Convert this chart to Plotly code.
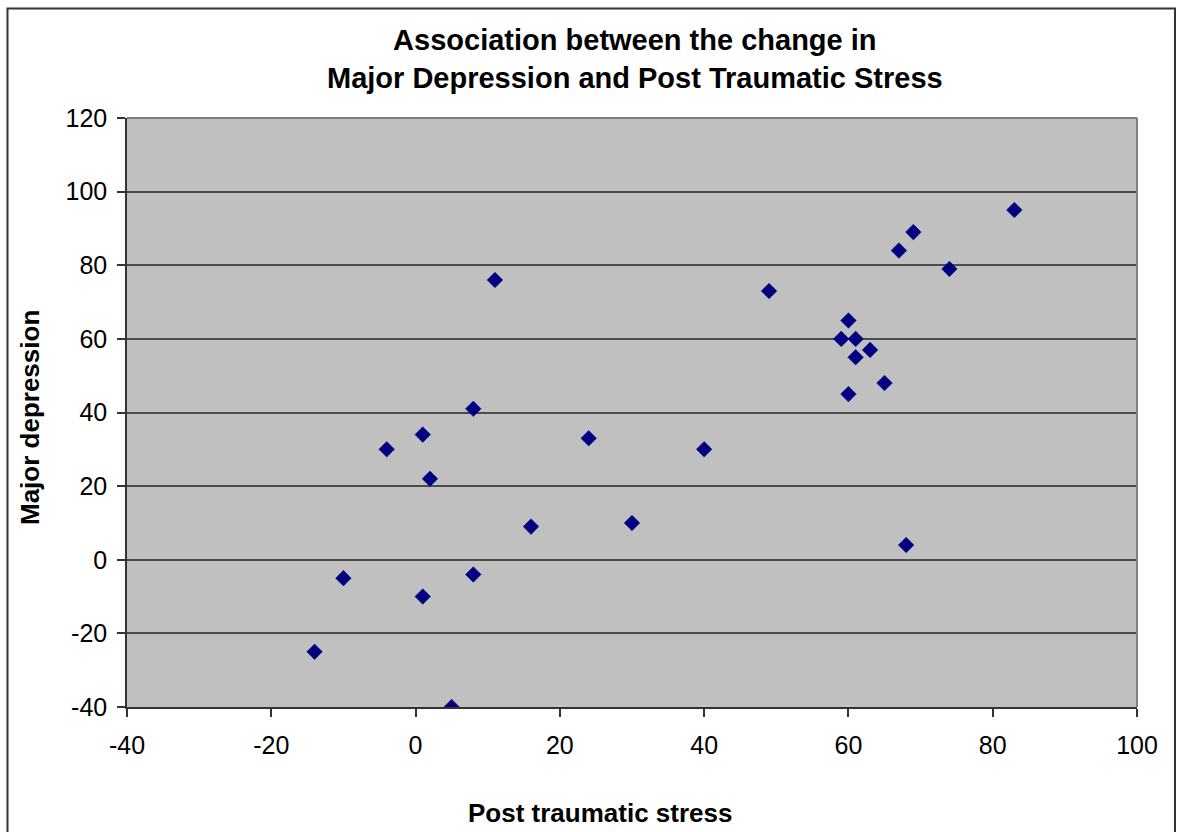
import plotly.graph_objects as go

# Data
post_traumatic_stress = [83, 69, 67, 74, 49, 11, 60, 59, 61, 63, 61, 65, 60, 8, 1, 24, -4, 40, 2, 16, 30, 68, -10, 8, 1, -14, 5]
major_depression = [95, 89, 84, 79, 73, 76, 65, 60, 60, 57, 55, 48, 45, 41, 34, 33, 30, 30, 22, 9, 10, 4, -5, -4, -10, -25, -40]

x_ticks = [-40, -20, 0, 20, 40, 60, 80, 100]
y_ticks = [-40, -20, 0, 20, 40, 60, 80, 100, 120]

W, H = 1181, 832
L, R, T, B = 127, 44, 118, 125
pw = W - L - R
ph = H - T - B

def px_to_paper_x(px):
    return (px - L) / pw

def py_to_paper_y(py):
    return (H - B - py) / ph

FONT = "Liberation Sans, Arial, sans-serif"

fig = go.Figure()
fig.add_trace(go.Scatter(
    x=post_traumatic_stress, y=major_depression, mode="markers",
    marker=dict(symbol="diamond", size=12, color="#000080",
                line=dict(width=0.5, color="#000080")),
    showlegend=False, hoverinfo="x+y",
))

fig.update_layout(
    width=W, height=H,
    margin=dict(l=L, r=R, t=T, b=B),
    paper_bgcolor="white",
    plot_bgcolor="#C0C0C0",
    font=dict(family=FONT, size=25, color="black"),
    xaxis=dict(range=[-40, 100], tickvals=x_ticks, ticktext=[str(v) for v in x_ticks],
               showgrid=False, zeroline=False, showline=True, linecolor="#333333", linewidth=1.5,
               ticks="outside", ticklen=8, tickcolor="#333333", tickwidth=1.5,
               tickfont=dict(family=FONT, size=25), ticklabelstandoff=7),
    yaxis=dict(range=[-40, 120], tickvals=y_ticks, ticktext=[str(v) for v in y_ticks],
               showgrid=True, gridcolor="#4d4d4d", gridwidth=1.5, zeroline=False,
               showline=True, linecolor="#333333", linewidth=1.5,
               ticks="outside", ticklen=8, tickcolor="#333333", tickwidth=1.5,
               tickfont=dict(family=FONT, size=25), ticklabelstandoff=5),
    shapes=[
        # outer chart border
        dict(type="rect", xref="paper", yref="paper",
             x0=px_to_paper_x(7.5), x1=px_to_paper_x(1175), y0=py_to_paper_y(850), y1=py_to_paper_y(8.5),
             line=dict(color="#333333", width=2), fillcolor="rgba(0,0,0,0)", layer="above"),
        # plot area top & right border (gray)
        dict(type="line", xref="paper", yref="paper", x0=0, x1=1, y0=1, y1=1,
             line=dict(color="#808080", width=2), layer="above"),
        dict(type="line", xref="paper", yref="paper", x0=1, x1=1, y0=0, y1=1,
             line=dict(color="#808080", width=2), layer="above"),
    ],
    annotations=[
        dict(text="<b>Association between the change in<br>Major Depression and Post Traumatic Stress</b>",
             xref="paper", yref="paper", x=px_to_paper_x(635), y=py_to_paper_y(58.5),
             xanchor="center", yanchor="middle", showarrow=False,
             font=dict(family=FONT, size=29, color="black")),
        dict(text="<b>Major depression</b>", textangle=-90,
             xref="paper", yref="paper", x=px_to_paper_x(30), y=py_to_paper_y(418),
             xanchor="center", yanchor="middle", showarrow=False,
             font=dict(family=FONT, size=26, color="black")),
        dict(text="<b>Post traumatic stress</b>",
             xref="paper", yref="paper", x=px_to_paper_x(600), y=py_to_paper_y(813),
             xanchor="center", yanchor="middle", showarrow=False,
             font=dict(family=FONT, size=26, color="black")),
    ],
)

fig.write_html("out.html")
